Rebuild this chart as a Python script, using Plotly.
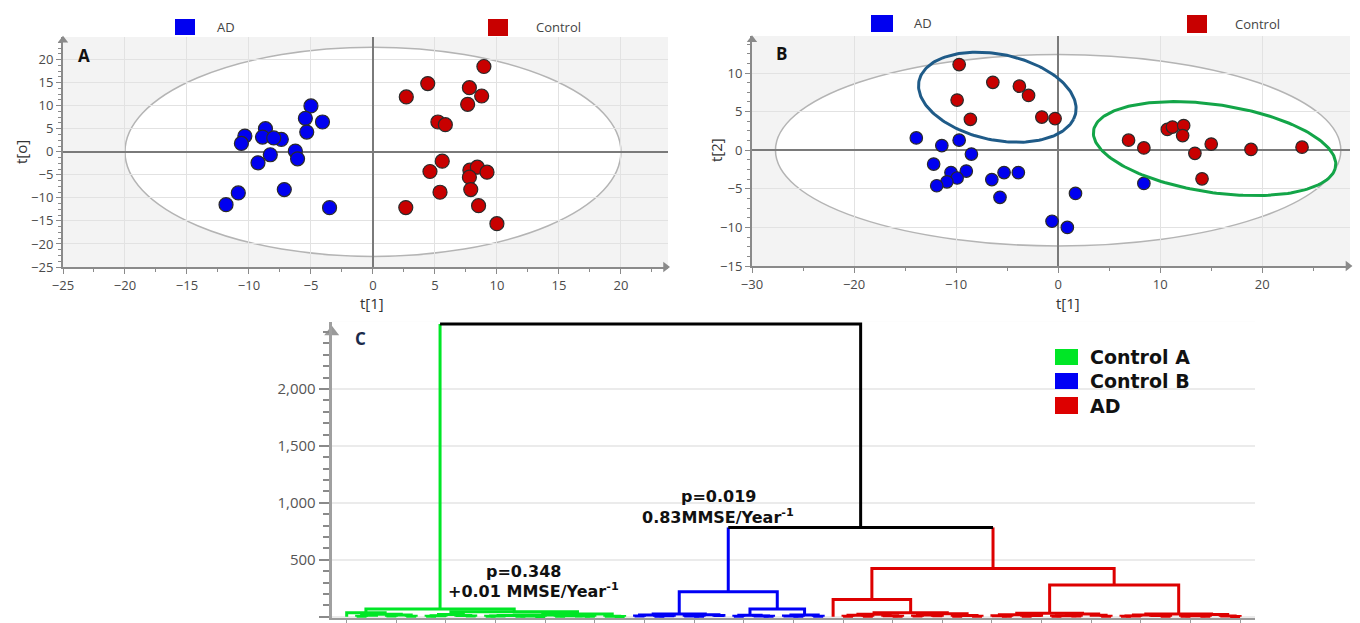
import numpy as np
import plotly.graph_objects as go

# ---------------- Panel A (OPLS-DA scores: t[1] vs t[o]) ----------------
a_ad_t1 = [-5.0, -5.45, -4.07, -5.34, -8.67, -10.33, -10.61, -8.91, -7.39, -8.0, -8.28, -9.27, -6.26, -6.08, -7.15, -10.86, -11.85, -3.5]
a_ad_to = [9.94, 7.26, 6.46, 4.28, 5.0, 3.41, 1.81, 3.19, 2.69, 3.0, -0.65, -2.39, 0.15, -1.52, -8.2, -8.93, -11.47, -12.12]
a_ctrl_t1 = [8.95, 4.42, 7.78, 8.77, 2.69, 7.64, 5.24, 5.84, 5.59, 4.6, 7.82, 8.42, 9.2, 7.78, 7.89, 5.41, 2.65, 8.52, 10.0]
a_ctrl_to = [18.5, 14.8, 13.9, 12.1, 11.9, 10.3, 6.46, 5.88, -2.03, -4.28, -3.99, -3.34, -4.43, -5.52, -8.2, -8.78, -12.1, -11.7, -15.6]

# ---------------- Panel B (PCA scores: t[1] vs t[2]) ----------------
b_ad_t1 = [-13.9, -11.4, -9.7, -8.5, -12.2, -10.5, -9.0, -9.9, -10.9, -11.9, -6.5, -5.3, -3.9, -5.7, 1.7, -0.6, 0.9, 8.4]
b_ad_t2 = [1.6, 0.6, 1.3, -0.5, -1.8, -2.9, -2.7, -3.6, -4.1, -4.6, -3.8, -2.9, -2.9, -6.1, -5.6, -9.2, -10.0, -4.3]
b_ctrl_t1 = [-9.7, -6.4, -3.8, -2.9, -9.9, -8.6, -1.6, -0.3, 6.9, 8.4, 10.7, 11.2, 12.3, 12.2, 13.4, 15.0, 18.9, 23.9, 14.1]
b_ctrl_t2 = [11.1, 8.8, 8.3, 7.1, 6.5, 4.0, 4.3, 4.1, 1.3, 0.3, 2.7, 3.0, 3.2, 1.9, -0.4, 0.8, 0.1, 0.4, -3.7]

# Hotelling ellipses (semi-axes) and highlighted sub-groups (center x, center y, a, b, tilt deg)
a_hotelling = (20.0, 22.7)
b_hotelling = (27.7, 12.4)
b_groups = {"AD-like controls": (-5.96, 6.87, 8.0, 5.45, 21.0, "#1f5b88"),
            "Control cluster": (15.33, 0.21, 12.1, 5.64, 12.4, "#13a548")}

# ---------------- Panel C (dendrogram) ----------------
# node = [merge height, left, right]; 0 = a single sample
control_a_tree = [67,
                  [35, 0, [22, [12, [5, 0, 0], 0], [14, [6, 0, 0], [4, 0, 0]]]],
                  [44, [20, [9, [4, 0, 0], 0], [11, 0, [6, 0, 0]]],
                   [24, [16, [10, [6, [3, 0, 0], 0], [7, [4, 0, 0], [2, 0, 0]]],
                         [8, [5, 0, 0], [6, 0, [3, 0, 0]]]],
                    [4, 0, [2, 0, 0]]]]]
control_b_tree = [219,
                  [23, [14, [6, 0, 0], [9, [3, 0, 0], 0]], [18, [7, 0, [4, 0, 0]], [10, 0, 0]]],
                  [67, [12, [5, 0, 0], [7, 0, [3, 0, 0]]], [14, [6, 0, [3, 0, 0]], [5, 0, 0]]]]
ad_tree = [424,
           [152, 0, [35, [22, [12, [5, 0, 0], [4, 0, 0]], [8, 0, [3, 0, 0]]],
                     [26, [14, [6, 0, 0], [9, 0, 0]], [10, [5, 0, 0], [3, 0, 0]]]]],
           [278, [30, [18, [8, 0, [4, 0, 0]], [11, [5, 0, 0], 0]],
                  [24, [9, [4, 0, 0], [6, 0, 0]], [12, 0, [5, 0, 0]]]],
            [23, [16, [7, [3, 0, 0], 0], [10, 0, [4, 0, 0]]],
             [19, [8, [5, 0, 0], [3, 0, 0]], [6, 0, [2, 0, 0]]]]]]
b_ad_merge = 784
root_merge = 2570
c_groups = ["Control A", "Control B", "AD"]
c_colors = {"Control A": "#00e626", "Control B": "#0000f5", "AD": "#dd0000", "mixed": "#000000"}
c_yticks = [0, 500, 1000, 1500, 2000]

BLUE = "#0000f0"
RED = "#c80000"

fig = go.Figure()

# ---- scatter panels ----
mk = dict(size=14, line=dict(color="#2a2a2a", width=1.2))
fig.add_trace(go.Scatter(x=a_ad_t1, y=a_ad_to, mode="markers", marker=dict(color=BLUE, **mk),
                         xaxis="x", yaxis="y", showlegend=False))
fig.add_trace(go.Scatter(x=a_ctrl_t1, y=a_ctrl_to, mode="markers", marker=dict(color=RED, **mk),
                         xaxis="x", yaxis="y", showlegend=False))
mk2 = dict(size=12.5, line=dict(color="#2a2a2a", width=1.2))
fig.add_trace(go.Scatter(x=b_ad_t1, y=b_ad_t2, mode="markers", marker=dict(color=BLUE, **mk2),
                         xaxis="x2", yaxis="y2", showlegend=False))
fig.add_trace(go.Scatter(x=b_ctrl_t1, y=b_ctrl_t2, mode="markers", marker=dict(color=RED, **mk2),
                         xaxis="x2", yaxis="y2", showlegend=False))

# tilted group ellipses in panel B
t = np.linspace(0, 2 * np.pi, 200)
for name, (cx, cy, ea, eb, ang, col) in b_groups.items():
    th = np.deg2rad(ang)
    ex = cx + ea * np.cos(t) * np.cos(th) + eb * np.sin(t) * np.sin(th)
    ey = cy - ea * np.cos(t) * np.sin(th) + eb * np.sin(t) * np.cos(th)
    fig.add_trace(go.Scatter(x=ex, y=ey, mode="lines", line=dict(color=col, width=3),
                             xaxis="x2", yaxis="y2", showlegend=False, hoverinfo="skip"))

# ---- dendrogram ----
segs = {k: ([], []) for k in c_colors}
leaf_counter = [0]


def add_seg(color, xs, ys):
    segs[color][0].extend(list(xs) + [None])
    segs[color][1].extend(list(ys) + [None])


def place(node, color):
    if node == 0:
        x = leaf_counter[0]
        leaf_counter[0] += 1
        return x, 0.0
    h, l, r = node
    xl, hl = place(l, color)
    xr, hr = place(r, color)
    add_seg(color, [xl, xl, xr, xr], [hl, h, h, hr])
    return (xl + xr) / 2.0, h


xa, ha = place(control_a_tree, "Control A")
xb, hb = place(control_b_tree, "Control B")
xr_, hr_ = place(ad_tree, "AD")
# blue + red merge
add_seg("Control B", [xb, xb], [hb, b_ad_merge])
add_seg("AD", [xr_, xr_], [hr_, b_ad_merge])
add_seg("mixed", [xb, xr_], [b_ad_merge, b_ad_merge])
xbr = (xb + xr_) / 2.0
# root
add_seg("Control A", [xa, xa], [ha, root_merge])
add_seg("mixed", [xbr, xbr, xa], [b_ad_merge, root_merge, root_merge])

for k, (xs, ys) in segs.items():
    fig.add_trace(go.Scatter(x=xs, y=ys, mode="lines", line=dict(color=c_colors[k], width=3),
                             xaxis="x3", yaxis="y3", showlegend=False, hoverinfo="skip"))

n_leaves = leaf_counter[0]

# axis arrows
arrow_col = "#8a8a8a"
fig.add_trace(go.Scatter(x=[-25], y=[24.2], mode="markers", marker=dict(symbol="triangle-up", size=9, color=arrow_col),
                         xaxis="x", yaxis="y", cliponaxis=False, showlegend=False, hoverinfo="skip"))
fig.add_trace(go.Scatter(x=[23.6], y=[-25], mode="markers", marker=dict(symbol="triangle-right", size=9, color=arrow_col),
                         xaxis="x", yaxis="y", cliponaxis=False, showlegend=False, hoverinfo="skip"))
fig.add_trace(go.Scatter(x=[-30], y=[14.3], mode="markers", marker=dict(symbol="triangle-up", size=9, color=arrow_col),
                         xaxis="x2", yaxis="y2", cliponaxis=False, showlegend=False, hoverinfo="skip"))
fig.add_trace(go.Scatter(x=[28.4], y=[-15], mode="markers", marker=dict(symbol="triangle-right", size=9, color=arrow_col),
                         xaxis="x2", yaxis="y2", cliponaxis=False, showlegend=False, hoverinfo="skip"))
fig.add_trace(go.Scatter(x=[-1.51], y=[2500], mode="markers", marker=dict(symbol="triangle-up", size=13, color="#9a9a9a"),
                         xaxis="x3", yaxis="y3", cliponaxis=False, showlegend=False, hoverinfo="skip"))

W, H = 1360, 623


def px(x):
    return x / W


def py(y):
    return 1 - y / H


tickfont = dict(family="Open Sans", size=13, color="#4a4a4a")
sc_axis = dict(showline=True, linecolor="#8a8a8a", linewidth=2, showgrid=True, gridcolor="#e2e2e2",
               gridwidth=1, zeroline=True, zerolinecolor="#7a7a7a", zerolinewidth=2, automargin=False,
               ticks="outside", ticklen=5, tickcolor="#8a8a8a", tickfont=tickfont, mirror=False)

fig.update_layout(
    width=W, height=H, margin=dict(l=0, r=0, t=0, b=0, autoexpand=False),
    paper_bgcolor="white", plot_bgcolor="#f3f3f3",
    xaxis=dict(domain=[px(63), px(668)], range=[-25, 23.8], tick0=-25, dtick=5, anchor="y",
               minor=dict(dtick=2.5, ticklen=3, tickcolor="#8a8a8a", showgrid=False), **sc_axis),
    yaxis=dict(domain=[py(267), py(37)], range=[-25, 24.9], tick0=-25, dtick=5, anchor="x",
               minor=dict(dtick=1.25, ticklen=3, tickcolor="#8a8a8a", showgrid=False), **sc_axis),
    xaxis2=dict(domain=[px(752), px(1350)], range=[-30, 28.6], tick0=-30, dtick=10, anchor="y2",
                minor=dict(dtick=5, ticklen=3, tickcolor="#8a8a8a", showgrid=False), **sc_axis),
    yaxis2=dict(domain=[py(266), py(36)], range=[-15, 14.8], tick0=-15, dtick=5, anchor="x2",
                minor=dict(dtick=1.25, ticklen=3, tickcolor="#8a8a8a", showgrid=False), **sc_axis),
    xaxis3=dict(domain=[px(331.7), px(1255)], range=[-1.51, n_leaves + 0.5], anchor="y3",
                tickmode="linear", tick0=0, dtick=5, showticklabels=False, ticks="outside", ticklen=6,
                tickcolor="#9a9a9a", showline=True, linecolor="#9a9a9a", linewidth=2, automargin=False,
                showgrid=False, zeroline=False),
    yaxis3=dict(domain=[py(618), py(321.8)], range=[-11.4, 2590], anchor="x3",
                tickmode="array", tickvals=c_yticks, tickformat=",d", ticks="outside", ticklen=10,
                tickcolor="#8a8a8a", tickwidth=1.5, automargin=False,
                minor=dict(tickmode="linear", tick0=0, dtick=100, ticklen=6, tickcolor="#8a8a8a", showgrid=False),
                tickfont=dict(family="Open Sans", size=15, color="#555"),
                showline=True, linecolor="#a0a0a0", linewidth=3,
                showgrid=True, gridcolor="#ebebeb", gridwidth=2, zeroline=False),
)

# white background for panel C
fig.add_shape(type="rect", xref="x3 domain", yref="y3 domain", x0=0, x1=1, y0=0, y1=1,
              fillcolor="white", line=dict(width=0), layer="below")
# white Hotelling ellipses (below gridlines)
fig.add_shape(type="circle", xref="x", yref="y", x0=-a_hotelling[0], x1=a_hotelling[0],
              y0=-a_hotelling[1], y1=a_hotelling[1], fillcolor="white",
              line=dict(color="#b4b4b4", width=1.5), layer="below")
fig.add_shape(type="circle", xref="x2", yref="y2", x0=-b_hotelling[0], x1=b_hotelling[0],
              y0=-b_hotelling[1], y1=b_hotelling[1], fillcolor="white",
              line=dict(color="#b4b4b4", width=1.5), layer="below")

# axis titles
title_font = dict(family="Open Sans", size=15, color="#333")
for text, x, y, ang in [("t[1]", 372, 303, 0), ("t[o]", 21, 152, -90),
                        ("t[1]", 1068, 303, 0), ("t[2]", 716, 150, -90)]:
    fig.add_annotation(xref="paper", yref="paper", x=px(x), y=py(y), text=text, showarrow=False,
                       font=title_font, textangle=ang, xanchor="center", yanchor="middle")

# legends for A and B
leg_font = dict(family="Open Sans", size=13, color="#444")
legend_items = [
    (175, 195, 19, 35, BLUE, "AD", 226), (488, 508, 19, 36, RED, "Control", 558),
    (871, 893, 15, 32, BLUE, "AD", 923), (1187, 1207, 15, 33, RED, "Control", 1257),
]
for x0, x1, y0, y1, col, label, tx in legend_items:
    fig.add_shape(type="rect", xref="paper", yref="paper", x0=px(x0), x1=px(x1), y0=py(y1), y1=py(y0),
                  fillcolor=col, line=dict(width=0))
    fig.add_annotation(xref="paper", yref="paper", x=px(tx), y=py((y0 + y1) / 2), text=label,
                       showarrow=False, font=leg_font, xanchor="center", yanchor="middle")

# legend for C
c_leg = [(349, 365), (373, 389), (397, 414)]
for (y0, y1), g in zip(c_leg, c_groups):
    fig.add_shape(type="rect", xref="paper", yref="paper", x0=px(1055), x1=px(1078), y0=py(y1), y1=py(y0),
                  fillcolor=c_colors[g], line=dict(width=0))
    fig.add_annotation(xref="paper", yref="paper", x=px(1088), y=py((y0 + y1) / 2), text=g, showarrow=False,
                       font=dict(family="DejaVu Sans", size=19, color="#111", weight="bold"),
                       xanchor="left", yanchor="middle")

# panel letters
for letter, x, y, col in [("A", 84, 55, "#111"), ("B", 782, 53, "#111"), ("C", 360, 338, "#1a2a4a")]:
    fig.add_annotation(xref="paper", yref="paper", x=px(x), y=py(y), text=letter, showarrow=False,
                       font=dict(family="Open Sans", size=17, color=col, weight="bold"),
                       xanchor="center", yanchor="middle")

# cluster statistics
stat_font = dict(family="DejaVu Sans", size=16, color="#111", weight="bold")
for text, x, y in [("p=0.348", 523, 571), ("+0.01 MMSE/Year<sup>-1</sup>", 533, 590),
                   ("p=0.019", 718, 496), ("0.83MMSE/Year<sup>-1</sup>", 718, 516)]:
    fig.add_annotation(xref="paper", yref="paper", x=px(x), y=py(y), text=text, showarrow=False,
                       font=stat_font, xanchor="center", yanchor="middle")

fig.write_html("out.html", config={"displayModeBar": False})
